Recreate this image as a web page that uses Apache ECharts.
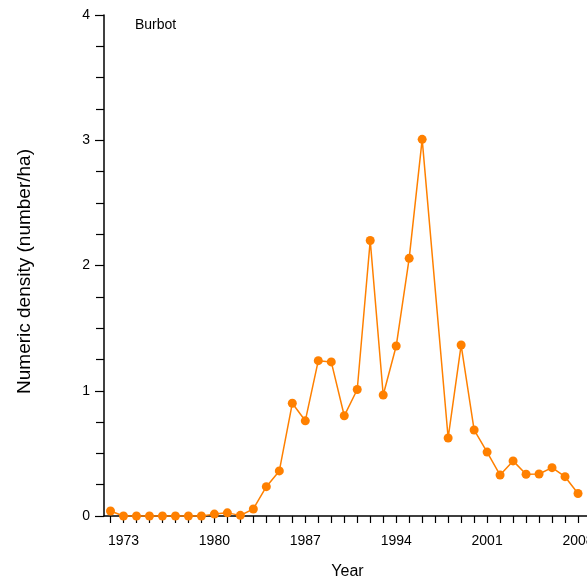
<!DOCTYPE html>
<html>
<head>
<meta charset="utf-8">
<script src="https://cdn.jsdelivr.net/npm/echarts@6/dist/echarts.min.js"></script>
<style>html,body{margin:0;padding:0;background:#fff}#c{width:587px;height:579px}</style>
</head>
<body>
<div id="c"></div>
<script>
const years = [1972,1973,1974,1975,1976,1977,1978,1979,1980,1981,1982,1983,1984,1985,1986,1987,1988,1989,1990,1991,1992,1993,1994,1995,1996,1998,1999,2000,2001,2002,2003,2004,2005,2006,2007,2008];
const density = [0.04,0,0,0,0,0,0,0,0.015,0.025,0.005,0.056,0.234,0.36,0.90,0.76,1.24,1.23,0.80,1.01,2.20,0.966,1.357,2.057,3.007,0.623,1.365,0.687,0.51,0.327,0.44,0.333,0.335,0.386,0.314,0.18];
const tickYears = [];
for (let y = 1972; y <= 2008; y++) tickYears.push(y);
const labelYears = [1973,1980,1987,1994,2001,2008];

const font = 'Liberation Sans, Arial, sans-serif';
const chart = echarts.init(document.getElementById('c'), null, {renderer:'canvas'});
chart.setOption({
  animation: false,
  backgroundColor: '#fff',
  title: {
    text: 'Burbot', left: 130, top: 13,
    textStyle: {fontFamily: font, fontSize: 14, fontWeight: 'normal', color: '#000'}
  },
  grid: {left: 104, width: 487, top: 15, bottom: 63, containLabel: false, outerBoundsMode: 'none'},
  xAxis: {
    type: 'value', min: 1971.5, max: 2009,
    name: 'Year', nameLocation: 'middle', nameGap: 48,
    nameTextStyle: {fontFamily: font, fontSize: 16, color: '#000'},
    axisLine: {show: true, onZero: false, lineStyle: {color: '#000', width: 1.5}},
    axisTick: {show: true, length: 7, lineStyle: {color: '#000', width: 1.2}, customValues: tickYears},
    axisLabel: {fontFamily: font, fontSize: 14, color: '#000', margin: 18, customValues: labelYears, formatter: v => String(v)},
    splitLine: {show: false}
  },
  yAxis: {
    type: 'value', min: 0, max: 4, interval: 1,
    name: 'Numeric density (number/ha)', nameLocation: 'middle', nameGap: 70,
    nameTextStyle: {fontFamily: font, fontSize: 19, color: '#000', padding: [0, 12, 0, 0]},
    axisLine: {show: true, lineStyle: {color: '#000', width: 1.5}},
    axisTick: {show: true, length: 9, lineStyle: {color: '#000', width: 1.2}},
    minorTick: {show: true, splitNumber: 4, length: 8, lineStyle: {color: '#000', width: 1.2}},
    axisLabel: {fontFamily: font, fontSize: 14, color: '#000', margin: 14},
    splitLine: {show: false}
  },
  series: [{
    type: 'line',
    data: years.map((y, i) => [y, density[i]]),
    symbol: 'circle', symbolSize: 9,
    lineStyle: {color: '#FF8000', width: 1.5},
    itemStyle: {color: '#FF8000'},
    clip: false
  }]
});
</script>
</body>
</html>
